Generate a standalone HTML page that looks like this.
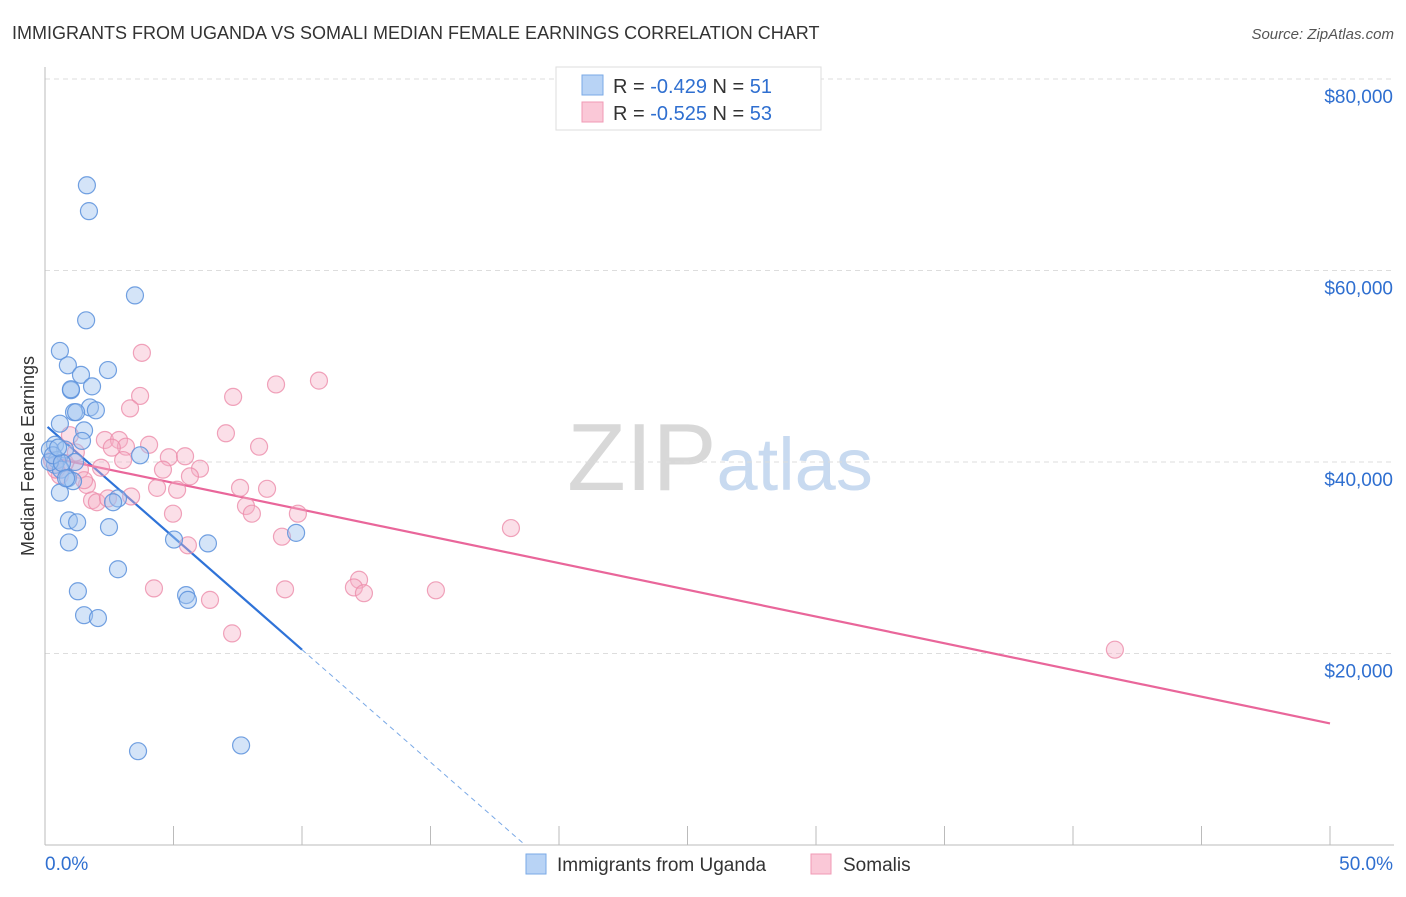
<!DOCTYPE html>
<html><head><meta charset="utf-8"><style>
body{margin:0;background:#fff;font-family:"Liberation Sans",sans-serif;}
svg text{font-family:"Liberation Sans",sans-serif;}
</style></head><body>
<svg id="chart" width="1406" height="892" xmlns="http://www.w3.org/2000/svg">
<text x="12" y="39" font-size="18" fill="#333">IMMIGRANTS FROM UGANDA VS SOMALI MEDIAN FEMALE EARNINGS CORRELATION CHART</text>
<text x="1394" y="39" font-size="15" fill="#555" text-anchor="end" font-style="italic">Source: ZipAtlas.com</text>
<text x="720" y="490" font-size="96" text-anchor="middle" fill="#ddd" font-family="Liberation Serif"><tspan fill="#d8d8d8">ZIP</tspan><tspan fill="#c8daf0" font-family="Liberation Sans" font-size="74">atlas</tspan></text>
<text transform="translate(34,456) rotate(-90)" font-size="18" fill="#333" text-anchor="middle">Median Female Earnings</text>
<g id="grid"></g><g id="axes"></g><g id="lines"></g><g id="pts"></g>
<g>
<rect x="556" y="67" width="265" height="63" fill="#fff" stroke="#ddd"/>
<rect x="582" y="75" width="21" height="20" fill="#b8d3f5" stroke="#7aa9e6"/>
<text x="613" y="93" font-size="20" fill="#333">R = <tspan fill="#2f6fd0">-0.429</tspan>   N =  <tspan fill="#2f6fd0">51</tspan></text>
<rect x="582" y="102" width="21" height="20" fill="#fac8d7" stroke="#f09ab5"/>
<text x="613" y="120" font-size="20" fill="#333">R = <tspan fill="#2f6fd0">-0.525</tspan>   N = <tspan fill="#2f6fd0">53</tspan></text>
</g>
<g>
<rect x="526" y="854" width="20" height="20" fill="#b8d3f5" stroke="#7aa9e6"/>
<text x="557" y="871" font-size="19" fill="#333">Immigrants from Uganda</text>
<rect x="811" y="854" width="20" height="20" fill="#fac8d7" stroke="#f09ab5"/>
<text x="843" y="871" font-size="19" fill="#333">Somalis</text>
</g>
</svg>
<script>
const yTicks=[20000,40000,60000,80000];
const yTickLabels=["$20,000","$40,000","$60,000","$80,000"];
const xTickLabels=["0.0%","50.0%"];
const ugX=[1.63,1.71,3.50,1.60,0.58,0.89,2.45,1.40,1.83,1.01,1.75,1.13,1.21,0.58,1.52,1.44,0.39,0.78,0.19,0.47,1.17,0.39,0.62,0.89,1.09,0.58,2.84,2.65,0.93,1.25,2.49,0.93,5.02,6.34,9.77,2.84,1.28,5.49,5.56,1.52,2.06,3.62,7.63,3.70,0.19,0.31,0.66,0.82,0.51,1.98,1.01];
const ugY=[68.9,66.2,57.4,54.8,51.6,50.1,49.6,49.1,47.9,47.5,45.7,45.2,45.2,44.0,43.3,42.2,41.8,41.3,41.3,40.2,40.0,39.7,39.2,38.3,38.0,36.8,36.2,35.8,33.9,33.7,33.2,31.6,31.9,31.5,32.6,28.8,26.5,26.1,25.6,24.0,23.7,9.8,10.4,40.7,40.0,40.7,39.9,38.3,41.5,45.4,47.6];
const soX=[3.77,10.66,8.99,3.70,3.31,7.32,7.04,8.33,2.33,2.88,4.05,3.15,0.97,4.82,5.45,6.03,4.59,5.64,4.36,5.14,7.59,8.64,2.18,1.36,0.78,1.63,1.83,2.02,3.35,7.82,8.05,9.84,4.98,9.22,5.56,18.13,12.22,12.02,12.41,4.24,6.42,9.34,15.21,7.28,41.63,0.58,2.45,0.43,1.52,3.04,0.27,1.2,2.6];
const soY=[51.4,48.5,48.1,46.9,45.6,46.8,43.0,41.6,42.3,42.3,41.8,41.6,42.8,40.5,40.6,39.3,39.2,38.5,37.3,37.1,37.3,37.2,39.4,39.2,39.9,37.6,36.0,35.8,36.4,35.4,34.6,34.6,34.6,32.2,31.3,33.1,27.7,26.9,26.3,26.8,25.6,26.7,26.6,22.1,20.4,38.6,36.2,39.2,38.1,40.2,40.2,41.0,41.5];
const ugFit=[43.9,-2.35]; // intercept k$, slope per %
const soFit=[40.6,-0.558];
const NS="http://www.w3.org/2000/svg";
const X=p=>45+p*25.7, Y=k=>845-k*9.575;
function mk(t,a,parent){const e=document.createElementNS(NS,t);for(const k in a)e.setAttribute(k,a[k]);document.getElementById(parent).appendChild(e);return e;}
yTicks.forEach((v,i)=>{const y=Y(v/1000);
 const g=mk('line',{x1:45,x2:1394,y1:y,y2:y,stroke:'#ddd','stroke-dasharray':'5,4'},'grid');
 
 
 const t=mk('text',{x:1393,y:y+24,'font-size':19,fill:'#2f6fd0','text-anchor':'end'},'axes');t.textContent=yTickLabels[i];
 
 });
const ax=mk('line',{x1:45,x2:1394,y1:845,y2:845,stroke:'#bbb'},'axes');


const ay=mk('line',{x1:45,x2:45,y1:67,y2:845,stroke:'#bbb'},'axes');


for(let i=0;i<=10;i++){const x=X(i*5);const t=mk('line',{x1:x,x2:x,y1:826,y2:845,stroke:'#bbb'},'axes');
 
 }
xTickLabels.forEach((l,i)=>{const t=mk('text',{x:i?1393:45,y:870,'font-size':19,fill:'#2f6fd0','text-anchor':i?'end':'start'},'axes');t.textContent=l;
 
 });
function pts(xs,ys,fill,stroke,name){xs.forEach((x,i)=>{const c=mk('circle',{cx:X(x),cy:Y(ys[i]),r:8.5,fill:fill,stroke:stroke,'stroke-width':1.2},'pts');
 
 });}
pts(soX,soY,'rgba(246,175,198,0.4)','rgba(236,140,170,0.8)','somalis-point');
pts(ugX,ugY,'rgba(160,196,240,0.45)','rgba(90,145,220,0.85)','uganda-point');
const f=(fit,x)=>fit[0]+fit[1]*x;
const l1=mk('line',{x1:X(0.1),y1:Y(f(ugFit,0.1)),x2:X(10),y2:Y(f(ugFit,10)),stroke:'#2f73d8','stroke-width':2.2},'lines');


const z=-ugFit[0]/ugFit[1];
const l2=mk('line',{x1:X(10),y1:Y(f(ugFit,10)),x2:X(z),y2:Y(0),stroke:'#7aa9e6','stroke-width':1,'stroke-dasharray':'5,4'},'lines');


const l3=mk('line',{x1:X(0.1),y1:Y(f(soFit,0.1)),x2:X(50),y2:Y(f(soFit,50)),stroke:'#e9669a','stroke-width':2.2},'lines');


</script>
</body></html>
